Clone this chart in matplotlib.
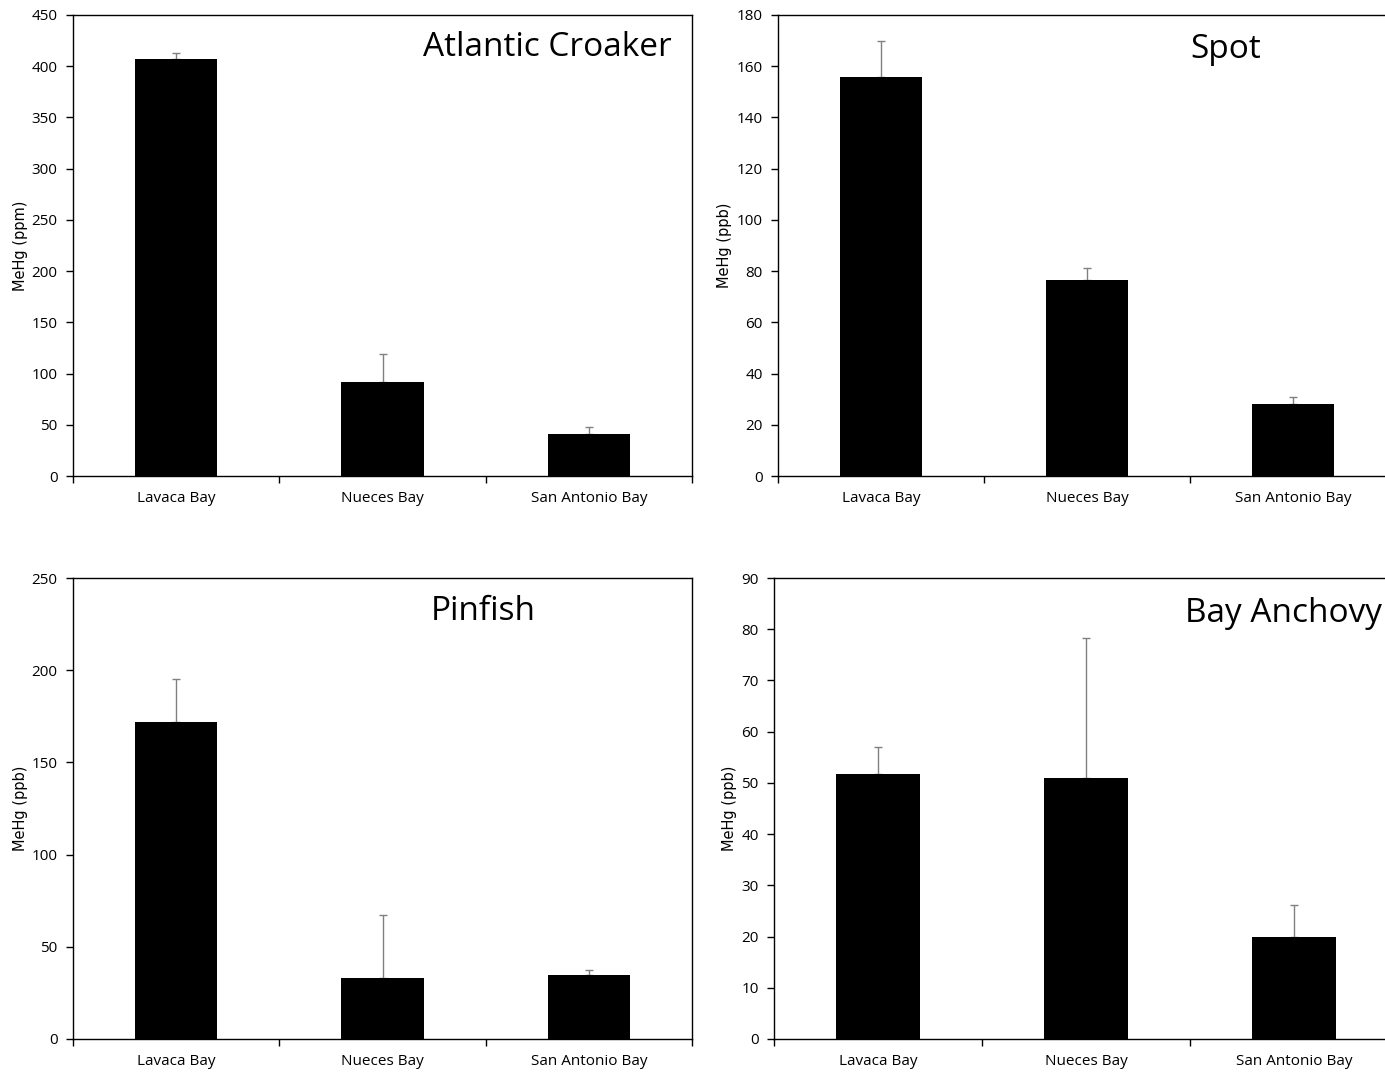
import numpy as np
import matplotlib
matplotlib.use('Agg')
import matplotlib.pyplot as plt

bays = ['Lavaca Bay', 'Nueces Bay', 'San Antonio Bay']

croaker_mean = [407, 91.5, 41]
croaker_upper = [413, 119.5, 47.5]
spot_mean = [155.8, 76.5, 28.3]
spot_upper = [170, 81.1, 31.0]
pinfish_mean = [171.9, 33.1, 34.7]
pinfish_upper = [195.2, 67.2, 37.2]
anchovy_mean = [51.7, 51.0, 19.9]
anchovy_upper = [57.0, 78.3, 26.1]

narrow = ['Liberation Sans Narrow', 'Open Sans', 'DejaVu Sans']

fig = plt.figure(figsize=(13.85, 10.72), dpi=100)
W, H = 1385.0, 1072.0


def panel(rect, mean, upper, ymax, step, ylab, title, tpos, ha):
    l, t, w, h = rect
    ax = fig.add_axes([l / W, 1 - (t + h) / H, w / W, h / H])
    x = np.arange(len(bays))
    mean = np.array(mean)
    upper = np.array(upper)
    ax.errorbar(x, mean, yerr=[np.zeros(len(x)), upper - mean], fmt='none',
                ecolor='#808080', elinewidth=1, capsize=3, capthick=1, zorder=1)
    ax.bar(x, mean, width=0.4, color='black', zorder=2)
    ax.set_xlim(-0.5, 2.5)
    ax.set_ylim(0, ymax)
    ax.set_yticks(np.arange(0, ymax + step / 2, step))
    ax.set_xticks([-0.5, 0.5, 1.5, 2.5])
    ax.set_xticklabels([])
    ax.set_xticks(x, minor=True)
    ax.set_xticklabels(bays, minor=True, fontsize=11, family=narrow)
    ax.tick_params(axis='x', which='minor', length=0, pad=11)
    ax.tick_params(axis='x', which='major', direction='out', length=5, width=1)
    ax.tick_params(axis='y', direction='out', length=5, width=1, pad=6)
    for lab in ax.get_yticklabels():
        lab.set_family(narrow)
        lab.set_fontsize(11)
    for s in ax.spines.values():
        s.set_linewidth(1)
    ax.set_ylabel(ylab, fontsize=10.5, family='DejaVu Sans', labelpad=3)
    # title placed in figure pixel coords so it stays inside the image
    fx = (tpos[0]) / W
    fy = 1 - tpos[1] / H
    fig.text(fx, fy, title, ha=ha, va='center', fontsize=24, family=narrow)
    return ax


panel((73, 15, 619, 461), croaker_mean, croaker_upper, 450, 50, 'MeHg (ppm)',
      'Atlantic Croaker', (672, 48), 'right')
panel((778, 15, 618, 461), spot_mean, spot_upper, 180, 20, 'MeHg (ppb)',
      'Spot', (1226, 50), 'center')
panel((73, 578, 619, 461), pinfish_mean, pinfish_upper, 250, 50, 'MeHg (ppb)',
      'Pinfish', (483, 611), 'center')
panel((774, 578, 624, 461), anchovy_mean, anchovy_upper, 90, 10, 'MeHg (ppb)',
      'Bay Anchovy', (1382, 613), 'right')

fig.savefig('out.png', dpi=100)
